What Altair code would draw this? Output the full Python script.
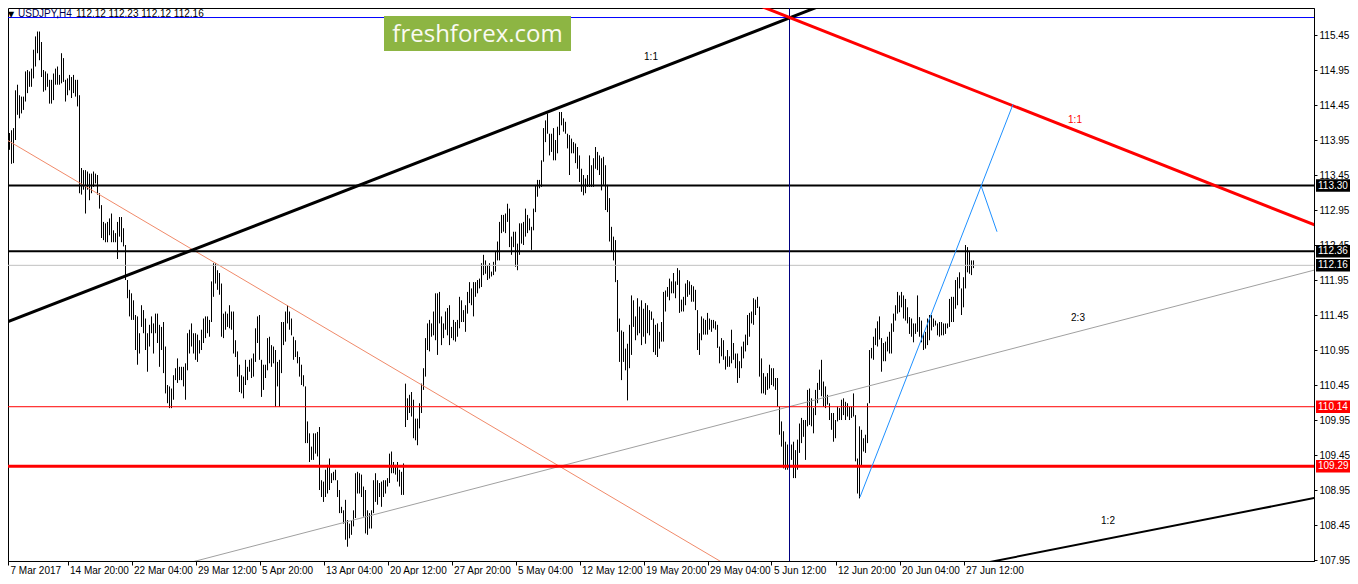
import json

import altair as alt
import pandas as pd

# H4 bars of USDJPY (high / low of every bar, left to right)
bar_high = [
    114.14, 114.14, 114.09, 114.05, 114.09, 114.12, 114.66, 114.74, 114.59, 114.57,
    114.57, 114.93, 114.95, 114.93, 114.97, 115.24, 115.43, 115.50, 115.50, 115.35,
    114.95, 114.93, 114.90, 114.81, 114.81, 114.90, 114.97, 115.00, 114.88, 115.19,
    115.12, 114.81, 114.83, 114.88, 114.85, 114.88, 114.81, 114.81, 114.59, 113.55,
    113.52, 113.52, 113.50, 113.47, 113.47, 113.50, 113.47, 113.45, 113.19, 113.02,
    112.78, 112.76, 112.78, 112.83, 112.90, 112.66, 112.62, 112.78, 112.85, 112.85,
    112.69, 112.45, 111.95, 111.81, 111.76, 111.66, 111.45, 111.43, 111.19, 111.59,
    111.52, 111.40, 111.19, 111.31, 111.43, 111.33, 111.47, 111.47, 111.31, 111.28,
    111.35, 111.00, 110.45, 110.43, 110.40, 110.59, 110.69, 110.83, 110.71, 110.71,
    110.71, 110.76, 111.19, 111.24, 111.33, 111.19, 111.19, 111.17, 111.09, 111.24,
    111.40, 111.43, 111.43, 111.38, 111.93, 112.19, 112.19, 112.09, 112.05, 111.90,
    111.47, 111.50, 111.47, 111.59,
    111.50, 111.50, 111.09, 110.93, 110.74, 110.59, 110.57, 110.81, 110.71, 110.81,
    110.83, 110.90, 111.26, 111.43, 111.45, 110.81, 110.74, 110.74, 111.12, 111.14,
    111.02, 111.00, 110.95, 110.78, 110.81, 111.35, 111.35, 111.50, 111.59, 111.50,
    111.40, 111.14, 111.09, 110.93, 110.85, 110.74, 110.59, 110.43, 109.93, 109.76,
    109.57, 109.76, 109.76, 109.78, 109.85, 109.09, 109.07, 109.24, 109.31, 109.40,
    109.19, 109.21, 109.24, 109.09, 108.95, 108.71, 108.66, 108.81, 108.52, 108.47,
    108.52, 108.66, 109.19, 109.21, 109.19, 109.17, 109.00, 108.95, 108.66, 108.62,
    108.66, 109.09, 109.19, 109.09, 109.05, 109.07, 109.09, 109.09, 109.12, 109.47,
    109.50, 109.35, 109.31, 109.35, 109.24, 109.21, 109.33, 110.47, 110.26, 110.31,
    110.35, 110.24, 109.97, 109.97, 110.19, 110.47, 110.69, 111.12, 111.33, 111.38,
    111.33, 111.50, 111.76, 111.76, 111.78, 111.43, 111.33, 111.50, 111.55, 111.59,
    111.28, 111.38, 111.35, 111.38, 111.71, 111.66, 111.52, 111.59, 111.78, 111.92,
    111.83, 111.92, 111.92, 111.95, 111.97, 112.19, 112.31, 112.23, 112.16, 112.19,
    112.07, 112.21, 112.35, 112.50, 112.78, 112.88, 112.88, 112.90, 113.04, 112.97,
    112.57, 112.64, 112.64, 112.47, 112.76, 112.76, 112.78, 112.97, 112.88, 112.83,
    112.71, 112.97, 113.31, 113.38, 113.38, 113.66, 114.12, 114.23, 114.33, 114.04,
    114.04, 114.12, 113.95, 114.14, 114.35, 114.35, 114.26, 114.21, 114.04, 114.02,
    113.97, 113.92, 113.90, 113.85, 113.73, 113.54, 113.45, 113.40, 113.45, 113.73,
    113.59, 113.69, 113.85, 113.78, 113.73, 113.69, 113.71, 113.59, 113.31, 113.12,
    112.71, 112.57, 112.52, 111.95, 111.40, 111.23, 111.21, 110.97, 111.04, 111.31,
    111.73, 111.66, 111.43, 111.69, 111.57, 111.66, 111.54, 111.62, 111.59, 111.52,
    111.50, 111.40, 111.31, 111.33, 111.21, 111.35, 111.78, 111.80, 111.85, 111.97,
    111.93, 112.05, 111.93, 112.12, 112.09, 111.67, 111.71, 111.90, 111.95, 111.93,
    111.88, 111.86, 111.81, 111.52, 111.19, 111.43, 111.40, 111.38, 111.48, 111.40,
    111.38, 111.38, 111.36, 111.31, 111.00, 111.12, 111.09, 110.86, 110.95, 110.86,
    111.24, 111.05, 110.90, 110.90, 110.79, 111.00, 111.07, 111.17, 111.45, 111.48,
    111.50, 111.69, 111.67, 111.71, 111.57, 110.83, 110.62, 110.57, 110.62, 110.74,
    110.69, 110.69, 110.55, 110.55, 110.14, 109.93, 109.79, 109.64, 109.60, 109.57,
    109.60, 109.64, 109.52, 109.67, 109.90, 109.98, 109.95, 109.95, 110.38, 110.40,
    110.26, 110.12, 110.38, 110.48, 110.67, 110.81, 110.50, 110.43, 110.31, 110.19,
    110.05, 110.05, 109.95, 110.14, 110.12, 110.24, 110.26, 110.21, 110.19, 110.14,
    110.14, 110.33, 110.02, 109.40, 109.86, 109.81, 109.69, 109.74, 110.19, 110.95,
    110.98, 111.14, 111.26, 111.36, 111.43, 111.12, 111.05, 111.07, 111.14, 111.21,
    111.33, 111.47, 111.59, 111.78, 111.73, 111.78, 111.73, 111.68, 111.56, 111.42,
    111.40, 111.33, 111.33, 111.73, 111.42, 111.37, 111.18, 111.21, 111.40, 111.45,
    111.45, 111.40, 111.37, 111.33, 111.35, 111.35, 111.33, 111.33, 111.33, 111.68,
    111.71, 111.71, 111.95, 111.99, 112.06, 111.83, 111.99, 112.45, 112.42, 112.35,
    112.23, 112.23,
]
bar_low = [
    113.88, 113.90, 113.95, 113.81, 113.61, 113.62, 113.95, 114.31, 114.26, 114.33,
    114.38, 114.50, 114.62, 114.71, 114.71, 114.83, 115.00, 115.19, 115.09, 114.85,
    114.64, 114.66, 114.71, 114.47, 114.47, 114.52, 114.74, 114.74, 114.74, 114.76,
    114.78, 114.50, 114.59, 114.66, 114.55, 114.62, 114.57, 114.43, 113.19, 113.17,
    113.24, 112.90, 113.24, 113.09, 113.19, 113.28, 113.33, 113.17, 112.97, 112.55,
    112.52, 112.49, 112.49, 112.59, 112.49, 112.49, 112.49, 112.25, 112.57, 112.49,
    112.43, 111.95, 111.69, 111.43, 111.38, 111.38, 110.95, 110.74, 110.90, 111.28,
    111.19, 110.95, 110.64, 111.00, 111.19, 110.90, 111.19, 111.05, 110.71, 110.95,
    110.62, 110.33, 110.19, 110.12, 110.12, 110.24, 110.52, 110.48, 110.52, 110.52,
    110.43, 110.24, 110.66, 110.90, 111.00, 110.90, 110.81, 110.78, 110.90, 110.95,
    111.05, 111.12, 111.19, 111.14, 111.35, 111.71, 111.90, 111.81, 111.74, 111.14,
    111.12, 111.24, 111.28, 111.26,
    111.24, 110.90, 110.85, 110.57, 110.35, 110.33, 110.26, 110.45, 110.52, 110.64,
    110.55, 110.57, 110.78, 111.05, 110.81, 110.28, 110.38, 110.55, 110.66, 110.76,
    110.71, 110.76, 110.14, 110.43, 110.14, 110.62, 111.02, 111.07, 111.33, 111.24,
    111.16, 110.81, 110.85, 110.76, 110.57, 110.45, 110.43, 109.62, 109.62, 109.35,
    109.38, 109.38, 109.47, 109.43, 108.95, 108.85, 108.78, 108.85, 108.90, 108.95,
    109.05, 109.09, 109.09, 108.85, 108.62, 108.62, 108.47, 108.24, 108.14, 108.26,
    108.31, 108.43, 108.55, 108.90, 108.90, 108.85, 108.57, 108.33, 108.31, 108.40,
    108.40, 108.62, 108.78, 108.74, 108.85, 108.71, 108.85, 108.90, 109.00, 109.05,
    109.19, 109.19, 109.17, 109.07, 109.00, 108.88, 108.88, 109.85, 109.95, 110.05,
    110.00, 109.69, 109.66, 109.59, 109.83, 110.05, 110.38, 110.57, 110.95, 110.93,
    111.14, 111.16, 111.09, 110.88, 111.33, 111.02, 111.12, 111.24, 111.16, 111.02,
    111.12, 111.09, 111.07, 111.14, 111.26, 111.35, 111.35, 111.21, 111.47, 111.62,
    111.59, 111.43, 111.71, 111.76, 111.83, 111.85, 112.02, 112.04, 111.95, 111.97,
    112.00, 112.02, 112.07, 112.23, 112.23, 112.62, 112.64, 112.62, 112.78, 112.42,
    112.31, 112.42, 112.14, 112.09, 112.31, 112.47, 112.45, 112.57, 112.62, 112.66,
    112.38, 112.66, 112.92, 113.14, 113.26, 113.28, 113.64, 113.92, 114.04, 113.73,
    113.78, 113.66, 113.66, 113.76, 114.02, 114.16, 114.07, 114.04, 113.83, 113.45,
    113.76, 113.76, 113.62, 113.54, 113.35, 113.21, 113.16, 113.19, 113.28, 113.28,
    113.28, 113.28, 113.54, 113.52, 113.45, 113.23, 113.31, 112.95, 112.92, 112.50,
    112.35, 112.23, 111.92, 111.21, 110.78, 110.52, 110.78, 110.66, 110.23, 110.69,
    110.88, 111.28, 111.09, 111.16, 111.19, 111.02, 111.14, 111.04, 111.19, 111.16,
    111.38, 110.92, 110.88, 110.85, 110.97, 111.07, 111.07, 111.50, 111.71, 111.66,
    111.76, 111.76, 111.69, 111.88, 111.48, 111.50, 111.50, 111.59, 111.71, 111.74,
    111.64, 111.64, 111.52, 110.95, 110.88, 111.09, 111.17, 111.17, 111.17, 111.24,
    111.21, 111.26, 111.24, 110.98, 110.76, 110.86, 110.81, 110.67, 110.71, 110.71,
    110.76, 110.81, 110.69, 110.48, 110.55, 110.69, 110.83, 110.93, 111.02, 111.14,
    111.33, 111.31, 111.45, 111.55, 110.57, 110.33, 110.33, 110.31, 110.38, 110.40,
    110.45, 110.43, 110.38, 110.14, 109.74, 109.57, 109.26, 109.24, 109.24, 109.33,
    109.38, 109.12, 109.12, 109.24, 109.48, 109.62, 109.71, 109.38, 109.86, 109.88,
    109.86, 109.76, 110.02, 110.19, 110.38, 110.29, 110.14, 110.12, 110.17, 109.95,
    109.81, 109.64, 109.69, 109.93, 109.95, 109.95, 110.02, 109.95, 110.00, 109.95,
    109.98, 110.00, 109.36, 108.90, 108.83, 109.29, 109.50, 109.48, 109.62, 110.19,
    110.83, 110.81, 111.02, 111.00, 111.10, 110.64, 110.79, 110.79, 110.93, 110.90,
    110.90, 111.21, 111.37, 111.47, 111.49, 111.56, 111.40, 111.37, 111.33, 111.18,
    111.14, 111.06, 111.18, 111.21, 111.14, 111.06, 110.95, 110.97, 111.02, 111.09,
    111.23, 111.28, 111.30, 111.16, 111.14, 111.16, 111.16, 111.18, 111.26, 111.28,
    111.35, 111.35, 111.54, 111.59, 111.83, 111.45, 111.56, 111.83, 112.06, 112.04,
    112.02, 112.12,
]

# time axis: a label every 32 bars
tick_bars = [0, 32, 64, 96, 128, 160, 192, 224, 256, 288, 320, 352, 384, 416, 448, 480]
tick_labels = [
    "7 Mar 2017", "14 Mar 20:00", "22 Mar 04:00", "29 Mar 12:00", "5 Apr 20:00",
    "13 Apr 04:00", "20 Apr 12:00", "27 Apr 20:00", "5 May 04:00", "12 May 12:00",
    "19 May 20:00", "29 May 04:00", "5 Jun 12:00", "12 Jun 20:00", "20 Jun 04:00",
    "27 Jun 12:00",
]
price_ticks = [107.95, 108.45, 108.95, 109.45, 109.95, 110.45, 110.95, 111.45,
               111.95, 112.45, 112.95, 113.45, 113.95, 114.45, 114.95, 115.45]

# horizontal levels
black_levels = [113.30, 112.36]
last_price = 112.16
support_thin = 110.14
support_thick = 109.29
top_level = 115.70
marker_bar = 393

# trend lines as (bar, price) end points
fan_black = [(-1.75, 111.31), (413.25, 115.92)]
fan_red = [(368.25, 115.98), (663.25, 112.65)]
fan_gray = [(83.25, 107.84), (663.25, 112.15)]
fan_low = [(485.75, 107.88), (663.25, 108.88)]
diag_salmon = [(1.75, 113.95), (363.25, 107.85)]
path_up = [(428.25, 108.85), (504.75, 114.46)]
path_back = [(488.75, 113.30), (496.75, 112.64)]

black_notes = [("1:1", 323.75, 115.14), ("2:3", 537.25, 111.41), ("1:2", 552.25, 108.51)]
red_notes = [("1:1", 535.75, 114.24)]

FONT = "Liberation Sans"
X_DOM = [2.25, 655.25]
Y_DOM = [107.936, 115.836]
W, H = 1306, 553

xs = alt.Scale(domain=X_DOM, nice=False, zero=False)
ys = alt.Scale(domain=Y_DOM, nice=False, zero=False)
x_axis = alt.Axis(
    values=[max(b, X_DOM[0]) for b in tick_bars],
    labelExpr=json.dumps(tick_labels) + "[round(datum.value / 32)]",
    title=None, grid=False, tickSize=4, labelAlign="left", labelOffset=2,
    labelPadding=0, labelOverlap=False, labelFlush=False,
    domainColor="black", tickColor="black", labelColor="black",
    labelFont=FONT, labelFontSize=10,
)
y_axis = alt.Axis(
    orient="right", values=price_ticks, format=".2f", title=None, grid=False,
    tickSize=3, labelPadding=2, labelOverlap=False, labelFlush=False,
    domainColor="black", tickColor="black", labelColor="black",
    labelFont=FONT, labelFontSize=10,
)


def X(field="i"):
    return alt.X(f"{field}:Q", scale=xs, axis=x_axis)


def Y(field="p"):
    return alt.Y(f"{field}:Q", scale=ys, axis=y_axis)


def seg(points, color, width):
    df = pd.DataFrame(points, columns=["i", "p"])
    return alt.Chart(df).mark_line(color=color, strokeWidth=width, clip=True).encode(x=X(), y=Y())


def level(prices, color, width):
    df = pd.DataFrame({"p": prices})
    return alt.Chart(df).mark_rule(color=color, strokeWidth=width, clip=True).encode(y=Y())


def notes(items, color):
    df = pd.DataFrame(items, columns=["t", "i", "p"])
    return alt.Chart(df).mark_text(color=color, font=FONT, fontSize=10).encode(
        x=X(), y=Y(), text="t:N")


def tags(prices, fill):
    base = alt.Chart(pd.DataFrame({"p": prices})).transform_calculate(
        lo="datum.p - 0.09", hi="datum.p + 0.09", txt="format(datum.p, '.2f')")
    box = base.mark_rect(fill=fill, clip=False).encode(
        x=alt.value(W + 2), x2=alt.value(W + 36), y=Y("lo"), y2="hi:Q")
    txt = base.mark_text(color="white", align="left", baseline="middle",
                         font=FONT, fontSize=10, clip=False).encode(
        x=alt.value(W + 4), y=Y(), text="txt:N")
    return [box, txt]


bars_df = pd.DataFrame({"i": range(len(bar_high)), "high": bar_high, "low": bar_low})
bars = alt.Chart(bars_df).mark_rule(color="black", strokeWidth=1, clip=True).encode(
    x=X(), y=Y("low"), y2="high:Q")

vline = alt.Chart(pd.DataFrame({"i": [marker_bar]})).mark_rule(
    color="#000080", strokeWidth=1, clip=True).encode(x=X())

one = pd.DataFrame({"t": ["x"]})
head = [
    alt.Chart(one).mark_text(text="\u25bc", align="left", baseline="top", fontSize=8,
                             font="DejaVu Sans", color="black").encode(
        x=alt.value(0), y=alt.value(3)),
    alt.Chart(one).mark_text(text="USDJPY,H4", align="left", baseline="top", fontSize=10,
                             font=FONT, color="#000050").encode(
        x=alt.value(10), y=alt.value(1)),
    alt.Chart(one).mark_text(text="112.12 112.23 112.12 112.16", align="left",
                             baseline="top", fontSize=10, font=FONT, color="black").encode(
        x=alt.value(68), y=alt.value(1)),
]
logo = [
    alt.Chart(one).mark_rect(fill="#8DB543").encode(
        x=alt.value(376), x2=alt.value(563), y=alt.value(8), y2=alt.value(43)),
    alt.Chart(one).mark_text(text="freshforex.com", align="center", baseline="alphabetic",
                             font="Open Sans", fontSize=24, color="#FAFAF2").encode(
        x=alt.value(469.5), y=alt.value(34)),
]

layers = [
    bars,
    seg(diag_salmon, "#F08A6A", 1),
    seg(fan_gray, "#A0A0A0", 1),
    level([last_price], "#C0C0C0", 1),
    level(black_levels, "black", 2),
    level([support_thin], "red", 1),
    level([support_thick], "red", 3),
    level([top_level], "#0000FF", 1),
    vline,
    seg(fan_black, "black", 3),
    seg(fan_red, "red", 3),
    seg(fan_low, "black", 2),
    seg(path_up, "#1E90FF", 1),
    seg(path_back, "#1E90FF", 1),
    notes(black_notes, "black"),
    notes(red_notes, "red"),
]
layers += tags(black_levels + [last_price], "black")
layers += tags([support_thin, support_thick], "red")
layers += head + logo

chart = alt.layer(*layers).properties(
    width=W,
    height=H,
    autosize=alt.AutoSizeParams(type="none"),
    padding={"left": 0, "top": 0, "right": 36, "bottom": 14},
    background="white",
).configure_view(stroke="black", strokeWidth=1)

chart.save("out.html", embed_options={"renderer": "svg", "actions": False})
